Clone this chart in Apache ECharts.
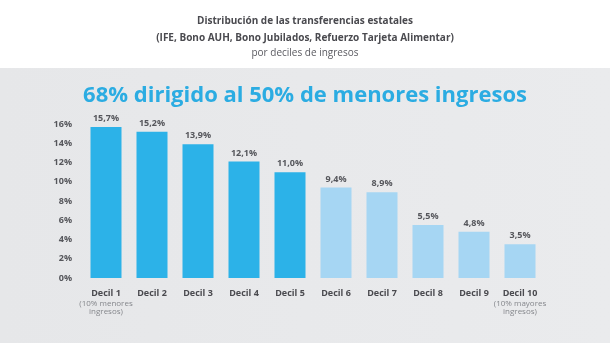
<!DOCTYPE html>
<html>
<head>
<meta charset="utf-8">
<script src="https://cdn.jsdelivr.net/npm/echarts@6/dist/echarts.min.js"></script>
<style>
  html, body { margin: 0; padding: 0; background: #ffffff; }
  #chart { width: 610px; height: 343px; }
</style>
</head>
<body>
<div id="chart"></div>
<script>
// Distribution of state transfers by income decile
const categories = ['Decil 1', 'Decil 2', 'Decil 3', 'Decil 4', 'Decil 5',
                    'Decil 6', 'Decil 7', 'Decil 8', 'Decil 9', 'Decil 10'];
const subLabels = ['(10% menores\ningresos)', '', '', '', '', '', '', '', '', '(10% mayores\ningresos)'];
const shares = [15.7, 15.2, 13.9, 12.1, 11.0, 9.4, 8.9, 5.5, 4.8, 3.5];
// the five lowest deciles are highlighted in the stronger blue
const lowerHalf = [true, true, true, true, true, false, false, false, false, false];
const yTicks = [0, 2, 4, 6, 8, 10, 12, 14, 16];

const titleLines = [
  'Distribución de las transferencias estatales',
  '(IFE, Bono AUH, Bono Jubilados, Refuerzo Tarjeta Alimentar)',
  'por deciles de ingresos'
];
const headline = '68% dirigido al 50% de menores ingresos';

const DARK = '#2cb2e8';
const LIGHT = '#a6d6f3';
const FONT = '"Open Sans", sans-serif';

const chart = echarts.init(document.getElementById('chart'), null, { renderer: 'canvas' });

function centredText(text, y, font, fill) {
  return {
    type: 'text', x: 305, y: y,
    style: { text: text, font: font, fill: fill, textAlign: 'center', textVerticalAlign: 'middle' }
  };
}

chart.setOption({
  animation: false,
  backgroundColor: '#ffffff',
  graphic: [
    {
      type: 'rect',
      shape: { x: 0, y: 68, width: 610, height: 275 },
      style: {
        fill: new echarts.graphic.LinearGradient(0, 0, 1, 0, [
          { offset: 0, color: '#e6e7e9' },
          { offset: 1, color: '#eaebed' }
        ])
      },
      z: -10
    },
    centredText(titleLines[0], 21, 'bold 10px ' + FONT, '#4a4a4f'),
    centredText(titleLines[1], 38, 'bold 10px ' + FONT, '#4a4a4f'),
    centredText(titleLines[2], 53, '10px ' + FONT, '#5a5a60'),
    centredText(headline, 96, 'bold 22px ' + FONT, '#2bace2')
  ],
  grid: { left: 83, right: 67, top: 124, bottom: 65 },
  xAxis: {
    type: 'category',
    data: categories,
    axisLine: { show: false },
    axisTick: { show: false },
    axisLabel: {
      margin: 8,
      interval: 0,
      formatter: (v, i) => subLabels[i] ? '{m|' + v + '}\n{s|' + subLabels[i] + '}' : '{m|' + v + '}',
      rich: {
        m: { fontFamily: FONT, fontWeight: 'bold', fontSize: 9, color: '#4a4a4f', lineHeight: 14 },
        s: { fontFamily: FONT, fontSize: 8, color: '#85878c', lineHeight: 8 }
      }
    }
  },
  yAxis: {
    type: 'value',
    min: yTicks[0],
    max: yTicks[yTicks.length - 1],
    interval: 2,
    splitLine: { show: false },
    axisLine: { show: false },
    axisTick: { show: false },
    axisLabel: {
      margin: 11,
      formatter: '{value}%',
      fontFamily: FONT, fontWeight: 'bold', fontSize: 9, color: '#55565b'
    }
  },
  series: [{
    type: 'bar',
    barWidth: 31,
    data: shares.map((v, i) => ({ value: v, itemStyle: { color: lowerHalf[i] ? DARK : LIGHT } })),
    label: {
      show: true,
      position: 'top',
      distance: 4,
      formatter: p => p.value.toFixed(1).replace('.', ',') + '%',
      fontFamily: FONT, fontWeight: 'bold', fontSize: 9, color: '#55565b'
    }
  }]
});
</script>
</body>
</html>
